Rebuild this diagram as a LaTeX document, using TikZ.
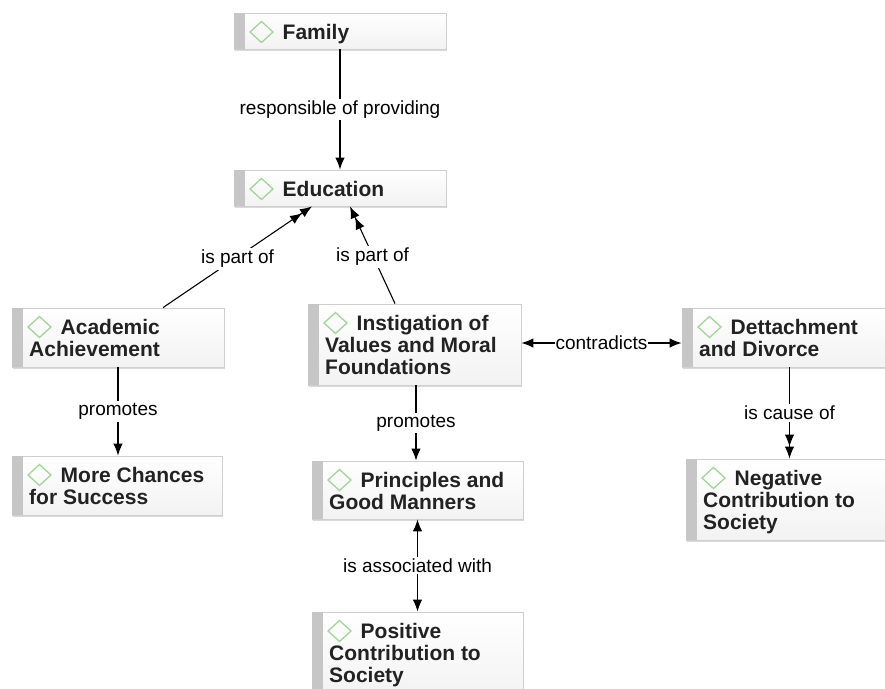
\documentclass[tikz,border=0pt]{standalone}
\usepackage{fontspec}
\setmainfont{Liberation Sans}
\usetikzlibrary{arrows.meta,fit,shadows}

\definecolor{boxline}{HTML}{CFCFCF}
\definecolor{barfill}{HTML}{C6C6C6}
\definecolor{diamgreen}{HTML}{A3D49A}
\definecolor{inktext}{HTML}{222222}

\tikzset{
  conceptbox/.style={draw=boxline, line width=0.8pt, top color=white,
    bottom color=black!5, inner sep=0pt,
    drop shadow={shadow xshift=1pt, shadow yshift=-1.5pt, opacity=0.15, fill=black}},
  conceptbar/.style={fill=barfill},
  conceptmark/.style={draw=diamgreen, line width=1.3pt, line join=miter},
  concepttext/.style={inner sep=0pt, anchor=base west, text=inktext,
    font=\fontsize{21}{22}\selectfont\bfseries},
  linklabel/.style={fill=white, inner sep=2pt, text=black,
    font=\fontsize{19}{21}\selectfont},
  link/.style={line width=1.1pt, -{Latex[length=12pt,width=9.5pt]}},
  twinlink/.style={line width=1.1pt,
    -{Latex[length=12pt,width=9.5pt] Latex[length=12pt,width=9.5pt]}},
  mutuallink/.style={line width=1.1pt,
    {Latex[length=12pt,width=9.5pt]}-{Latex[length=12pt,width=9.5pt]}},
}

% concept box: name, left, top, right, bottom
\newcommand{\conceptframe}[5]{%
  \node[conceptbox, fit={(#2,#3) (#4,#5)}] (#1) {};
  \fill[conceptbar] (#2+0.4,#3+0.4) rectangle (#2+11,#5-0.4);
  \draw[conceptmark] (#2+27.5,#3+8.5) -- (#2+39,#3+19) -- (#2+27.5,#3+29.5)
    -- (#2+16,#3+19) -- cycle;
}
% first line of a concept (after the diamond): name, left, top, text
\newcommand{\conceptfirst}[4]{%
  \node[concepttext] (#1) at (#2+48.5,#3+26.5) {#4};
}
% following line: name, left, top, line index, text
\newcommand{\conceptnext}[5]{%
  \node[concepttext] (#1) at (#2+17,#3+26.5+22*#4) {#5};
}

\begin{document}
\begin{tikzpicture}[x=1pt,y=-1pt]
\useasboundingbox (0,0) rectangle (885,688);

% concepts
\conceptframe{fam}{234}{13}{446}{49}
\conceptfirst{famA}{234}{13}{Family}

\conceptframe{edu}{234}{170}{446}{206}
\conceptfirst{eduA}{234}{170}{Education}

\conceptframe{aca}{12}{308}{224}{367}
\conceptfirst{acaA}{12}{308}{Academic}
\conceptnext{acaB}{12}{308}{1}{Achievement}

\conceptframe{ins}{308}{304}{521}{385}
\conceptfirst{insA}{308}{304}{Instigation of}
\conceptnext{insB}{308}{304}{1}{Values and Moral}
\conceptnext{insC}{308}{304}{2}{Foundations}

\conceptframe{det}{682}{308}{897}{367}
\conceptfirst{detA}{682}{308}{Dettachment}
\conceptnext{detB}{682}{308}{1}{and Divorce}

\conceptframe{more}{12}{456}{222}{515}
\conceptfirst{moreA}{12}{456}{More Chances}
\conceptnext{moreB}{12}{456}{1}{for Success}

\conceptframe{pri}{312}{461}{523}{519}
\conceptfirst{priA}{312}{461}{Principles and}
\conceptnext{priB}{312}{461}{1}{Good Manners}

\conceptframe{pos}{312}{612}{523}{700}
\conceptfirst{posA}{312}{612}{Positive}
\conceptnext{posB}{312}{612}{1}{Contribution to}
\conceptnext{posC}{312}{612}{2}{Society}

\conceptframe{neg}{686}{459}{893}{540}
\conceptfirst{negA}{686}{459}{Negative}
\conceptnext{negB}{686}{459}{1}{Contribution to}
\conceptnext{negC}{686}{459}{2}{Society}

% link end points
\coordinate (acaOut) at ([xshift=45pt]aca.north);
\coordinate (eduInL) at ([xshift=-28pt]edu.south);
\coordinate (insOut) at ([xshift=-19.5pt]ins.north);
\coordinate (eduInR) at ([xshift=10pt]edu.south);
\coordinate (insSide) at ([yshift=1.5pt]ins.east);
\coordinate (insDown) at ([xshift=1.5pt]ins.south);

% links
\draw[link] (fam.south) -- (edu.north)
  node[linklabel, midway] (l1) {responsible of providing};
\draw[twinlink] (acaOut) -- (eduInL)
  node[linklabel, midway, yshift=-2pt] (l2) {is part of};
\draw[twinlink] (insOut) -- (eduInR)
  node[linklabel, midway, yshift=-2pt] (l3) {is part of};
\draw[mutuallink] (insSide) -- (insSide -| det.west)
  node[linklabel, midway, inner xsep=1pt] (l4) {contradicts};
\draw[link] (aca.south) -- (aca.south |- more.north)
  node[linklabel, midway] (l5) {promotes};
\draw[link] (insDown) -- (insDown |- pri.north)
  node[linklabel, midway] (l6) {promotes};
\draw[mutuallink] (pri.south) -- (pos.north)
  node[linklabel, midway] (l7) {is associated with};
\draw[twinlink] (det.south) -- (det.south |- neg.north)
  node[linklabel, midway] (l8) {is cause of};
\end{tikzpicture}
\end{document}
